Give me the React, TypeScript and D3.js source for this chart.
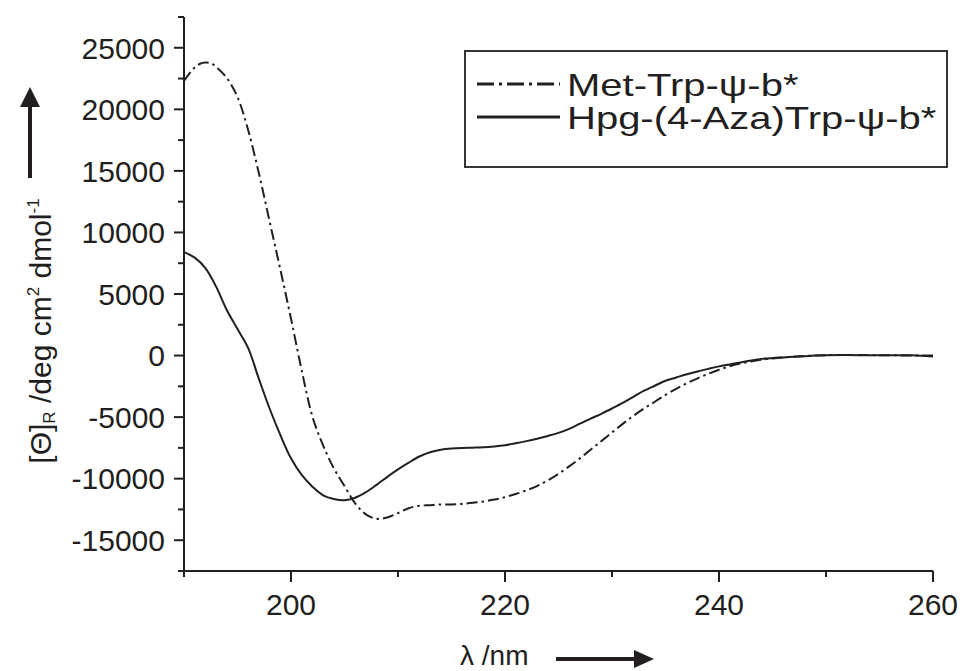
import React from "react";
import * as d3 from "d3";

const metX = [190, 190.5, 191, 191.5, 192, 192.5, 193, 194, 195, 196, 197, 198, 199, 200, 201, 202, 203, 204, 205, 206, 207, 208, 209, 210, 211, 212, 213, 214, 215, 216, 217, 218, 219, 220, 221, 222, 223, 224, 225, 226, 227, 228, 229, 230, 231, 232, 233, 234, 235, 236, 237, 238, 239, 240, 241, 242, 243, 244, 245, 246, 247, 248, 249, 250, 252, 254, 256, 258, 260];
const metY = [22300, 22900, 23400, 23700, 23800, 23750, 23450, 22550, 21000, 18300, 14800, 10900, 7000, 3000, -1200, -4950, -7300, -9150, -10600, -12000, -12900, -13260, -13150, -12800, -12400, -12200, -12150, -12100, -12100, -12050, -11950, -11850, -11700, -11500, -11250, -10950, -10600, -10150, -9600, -9000, -8350, -7650, -6950, -6250, -5550, -4900, -4300, -3750, -3200, -2700, -2250, -1850, -1480, -1150, -870, -650, -480, -330, -230, -150, -90, -40, 0, 30, 50, 40, 20, 10, 0];

const hpgX = [190, 191, 192, 193, 194, 195, 196, 197, 198, 199, 200, 201, 202, 203, 204, 205, 206, 207, 208, 209, 210, 211, 212, 213, 214, 215, 216, 217, 218, 219, 220, 221, 222, 223, 224, 225, 226, 227, 228, 229, 230, 231, 232, 233, 234, 235, 236, 237, 238, 239, 240, 241, 242, 243, 244, 245, 246, 247, 248, 249, 250, 252, 254, 256, 258, 260];
const hpgY = [8400, 7950, 7100, 5600, 3700, 2150, 600, -1900, -4300, -6450, -8350, -9700, -10650, -11350, -11650, -11750, -11550, -11100, -10500, -9850, -9250, -8700, -8200, -7850, -7650, -7550, -7500, -7480, -7450, -7380, -7280, -7130, -6950, -6750, -6530, -6280, -5950, -5530, -5120, -4730, -4300, -3850, -3350, -2850, -2450, -2050, -1780, -1520, -1290, -1080, -880, -720, -560, -400, -270, -200, -150, -100, -50, 0, 30, 40, 20, 30, 20, -80];

const xMajor = [200, 220, 240, 260];
const xMinor = [190, 210, 230, 250];
const yMajor = [-15000, -10000, -5000, 0, 5000, 10000, 15000, 20000, 25000];
const yMinor = [-17500, -12500, -7500, -2500, 2500, 7500, 12500, 17500, 22500, 27500];
const seriesNames = ["Met-Trp-\u03c8-b*", "Hpg-(4-Aza)Trp-\u03c8-b*"];

const INK = "#231f20";
const FONT = "'Liberation Sans', Arial, Helvetica, sans-serif";
const DASH = "11,4,2.5,4";

export default function App() {
  const x = d3.scaleLinear().domain([190, 260]).range([184, 933]);
  const y = d3.scaleLinear().domain([-17500, 27500]).range([571, 17]);
  const line = d3
    .line<[number, number]>()
    .x((d) => x(d[0]))
    .y((d) => y(d[1]))
    .curve(d3.curveCatmullRom.alpha(0.5));
  const metData = metX.map((v, i) => [v, metY[i]] as [number, number]);
  const hpgData = hpgX.map((v, i) => [v, hpgY[i]] as [number, number]);
  const x0 = x(190);
  const y0 = y(-17500);

  return (
    <svg
      width={962}
      height={671}
      style={{ position: "absolute", left: 0, top: 0, background: "#fff" }}
      fontFamily={FONT}
    >
      <rect x={0} y={0} width={962} height={671} fill="#fff" />
      {/* curves */}
      <path d={line(metData) || ""} fill="none" stroke={INK} strokeWidth={2} strokeDasharray={DASH} />
      <path d={line(hpgData) || ""} fill="none" stroke={INK} strokeWidth={2} />

      {/* axes */}
      <line x1={x0} x2={x0} y1={y(27500)} y2={y0} stroke={INK} strokeWidth={2} />
      <line x1={x0} x2={x(260)} y1={y0} y2={y0} stroke={INK} strokeWidth={2} />
      {yMajor.map((v) => (
        <g key={"ym" + v}>
          <line x1={x0 - 10} x2={x0} y1={y(v)} y2={y(v)} stroke={INK} strokeWidth={2} />
          <text x={x0 - 19} y={y(v)} dy="0.36em" textAnchor="end" fontSize={30} fill={INK}>
            {v}
          </text>
        </g>
      ))}
      {yMinor.map((v) => (
        <line key={"yn" + v} x1={x0 - 6} x2={x0} y1={y(v)} y2={y(v)} stroke={INK} strokeWidth={2} />
      ))}
      {xMajor.map((v) => (
        <g key={"xm" + v}>
          <line x1={x(v)} x2={x(v)} y1={y0} y2={y0 + 11} stroke={INK} strokeWidth={2} />
          <text x={x(v)} y={615} textAnchor="middle" fontSize={30} fill={INK}>
            {v}
          </text>
        </g>
      ))}
      {xMinor.map((v) => (
        <line key={"xn" + v} x1={x(v)} x2={x(v)} y1={y0} y2={y0 + 6} stroke={INK} strokeWidth={2} />
      ))}

      {/* x label */}
      <text x={460} y={665} fontSize={28} fill={INK}>
        {"\u03bb /nm"}
      </text>
      <line x1={556} x2={638} y1={659} y2={659} stroke={INK} strokeWidth={4} />
      <path d="M634,650 L654,659 L634,668 Z" fill={INK} />

      {/* y label */}
      <text transform="translate(51,331) rotate(-90)" textAnchor="middle" fontSize={30} fill={INK}>
        <tspan>[Θ]</tspan>
        <tspan fontSize={17} dy={4}>R</tspan>
        <tspan dy={-4}> /deg cm</tspan>
        <tspan fontSize={17} dy={-12}>2</tspan>
        <tspan dy={12}> dmol</tspan>
        <tspan fontSize={17} dy={-12}>-1</tspan>
      </text>
      <line x1={30} x2={30} y1={178} y2={102} stroke={INK} strokeWidth={4} />
      <path d="M20,107 L30,87 L40,107 Z" fill={INK} />

      {/* legend */}
      <rect x={465} y={51} width={482} height={116} fill="none" stroke={INK} strokeWidth={1.8} />
      <line x1={477} x2={560} y1={84} y2={84} stroke={INK} strokeWidth={3} strokeDasharray="17,5,3,5" />
      <line x1={477} x2={560} y1={117} y2={117} stroke={INK} strokeWidth={3} />
      <text transform="translate(567,96) scale(1.25,1)" fontSize={32} fill={INK}>
        {seriesNames[0]}
      </text>
      <text transform="translate(567,129) scale(1.25,1)" fontSize={32} fill={INK}>
        {seriesNames[1]}
      </text>
    </svg>
  );
}
